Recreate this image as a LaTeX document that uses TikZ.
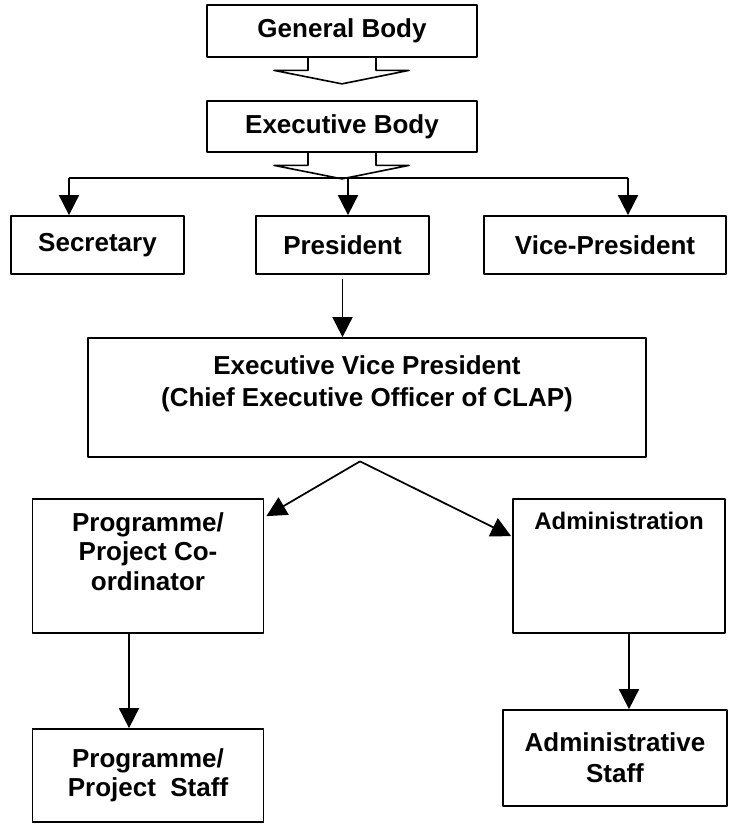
\documentclass[tikz,border=0pt]{standalone}
\usepackage{fontspec}
\setmainfont{Liberation Sans}
\usetikzlibrary{
	calc,        %计算
	arrows.meta  %提供各种箭头
}
\tikzset{
	every picture/.style={
		line join=round
}}
\begin{document}
\begin{tikzpicture}[x=0.75pt,y=-0.75pt]
\tikzstyle{box}=[rectangle, draw=black!100, line width=1.3pt, align=center, inner sep=0pt, font=\bfseries\fontsize{19.5}{22.5}\selectfont]
\tikzstyle{connect}=[-{Triangle[length=15pt,width=15pt]}, line width=1.3pt]
\tikzstyle{line}=[line width=1.2pt]
\useasboundingbox (0,0) rectangle (728,824);
\node[box, minimum width=202.5pt, minimum height=39pt] (gb) at (342,31) {General Body};
\node[box, minimum width=202.5pt, minimum height=38.25pt] (eb) at (342,126.5) {Executive Body};
\node[box, minimum width=129.75pt, minimum height=43.5pt] (sec) at (97.5,245) {Secretary};
\node[box, minimum width=129.75pt, minimum height=43.5pt] (pres) at (342.5,245) {President};
\node[box, minimum width=181.5pt, minimum height=43.5pt] (vp) at (605,245) {Vice-President};
\node[box, minimum width=418.5pt, minimum height=89.25pt, font=\bfseries\fontsize{19.5}{24}\selectfont] (evp) at (367,397.5) {Executive Vice President\\(Chief Executive Officer of CLAP)\\~};
\node[box, minimum width=173.25pt, minimum height=100.5pt, font=\bfseries\fontsize{19.5}{22}\selectfont] (prog) at (148,566) {Programme/\\Project Co-\\ordinator\\~};
\node[box, minimum width=159pt, minimum height=100.5pt, font=\bfseries\fontsize{18}{22.5}\selectfont] (admin) at (619,566) {Administration\\~\\~\\~};
\node[box, minimum width=173.25pt, minimum height=69.75pt, font=\bfseries\fontsize{19.5}{22}\selectfont] (pstaff) at (148,775.5) {Programme/\\Project\ \ Staff};
\node[box, minimum width=168pt, minimum height=72pt, font=\bfseries\fontsize{19.5}{23.25}\selectfont] (astaff) at (615,758) {Administrative\\Staff};
\foreach \n in {gb,eb}
	\draw[line] ($(\n.south)+(-34,0)$) -- ($(\n.south)+(-34,12.5)$) -- ($(\n.south)+(-68,12.5)$) -- ($(\n.south)+(0,26)$) -- ($(\n.south)+(67,12.5)$) -- ($(\n.south)+(34,12.5)$) -- ($(\n.south)+(34,0)$);
\coordinate (bl) at (69,178);
\coordinate (bm) at (348,178);
\coordinate (br) at (628,178);
\draw[line] (bl) -- (br);
\path (bl) edge [connect] (bl |- sec.north)
(bm) edge [connect] (bm |- pres.north)
(br) edge [connect] (br |- vp.north);
\path ([yshift=-3pt]pres.south) edge [connect] (pres.south |- evp.north);
\coordinate (split) at ($(evp.south)+(-7,3.5)$);
\path (split) edge [connect] ($(prog.north east)+(2,18)$)
(split) edge [connect] ($(admin.north west)+(-1,38)$);
\path ([xshift=-14.25pt]prog.south) edge [connect] ([xshift=-14.25pt]pstaff.north)
([xshift=7.5pt]admin.south) edge [connect] ([xshift=10.5pt]astaff.north);
\end{tikzpicture}
\end{document}
